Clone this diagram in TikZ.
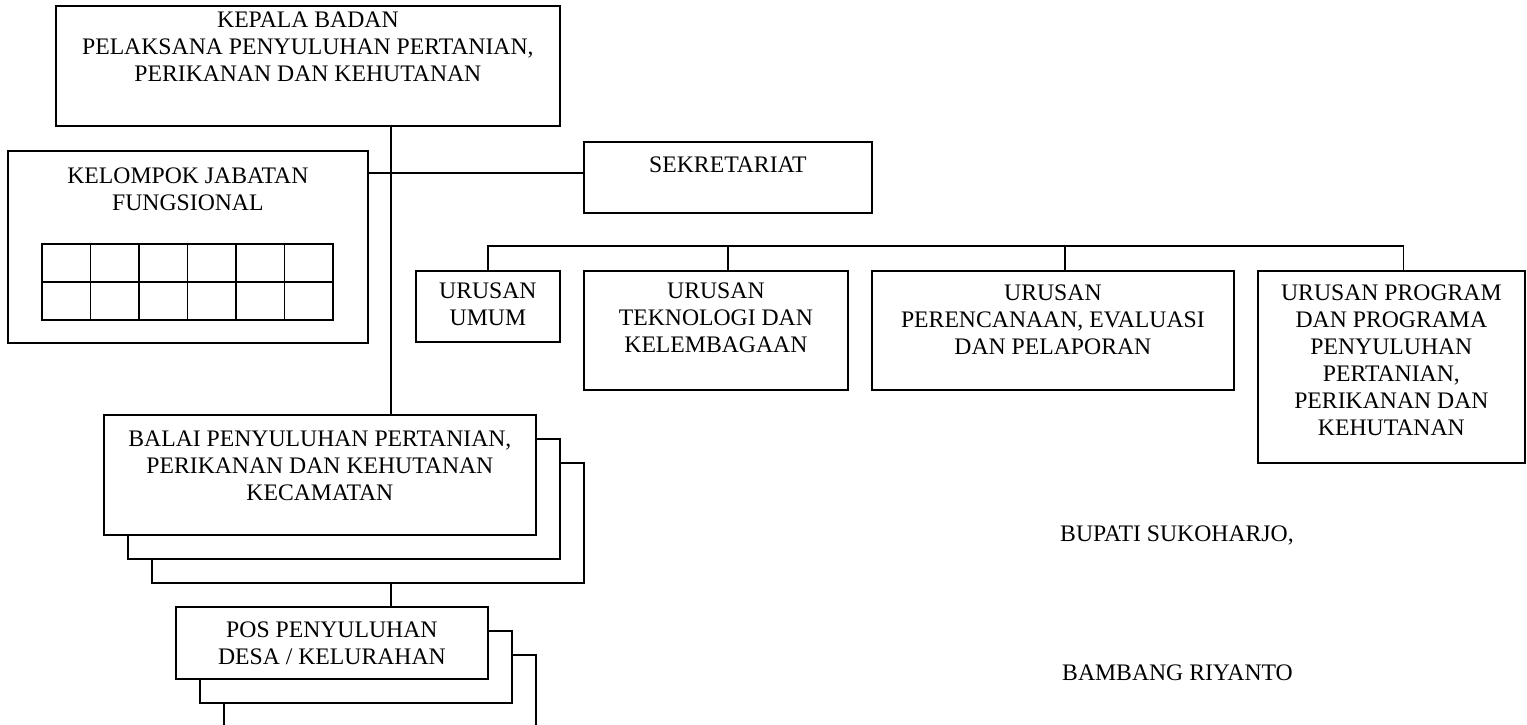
\documentclass[tikz,border=0pt]{standalone}
\usepackage{fontspec}
\setmainfont{Liberation Serif}
\usetikzlibrary{positioning}

\tikzset{
  unit/.style={draw, fill=white, line width=1.8pt, inner sep=0pt, anchor=north west},
  caption/.style={align=center, inner sep=0pt, font=\fontsize{23.7}{27}\selectfont},
  signature/.style={anchor=base west, inner sep=0pt, font=\fontsize{23.7}{27}\selectfont},
  link/.style={line width=1.8pt},
  cell/.style={line width=1.8pt}
}

\begin{document}
\begin{tikzpicture}[x=1pt, y=-1pt]
  \useasboundingbox (0,0) rectangle (1527,725);
  \clip (0,0) rectangle (1527,725);

  % head of the agency
  \node[unit, minimum width=504pt, minimum height=120pt] (kepala) at (55,5) {};
  \node[caption, below=7pt of kepala.north] (kepalaText)
    {KEPALA BADAN\\PELAKSANA PENYULUHAN PERTANIAN,\\PERIKANAN DAN KEHUTANAN};

  % functional group with its table
  \node[unit, minimum width=360pt, minimum height=192pt] (kelompok) at (7,150) {};
  \node[caption, below=18pt of kelompok.north] (kelompokText)
    {KELOMPOK JABATAN\\FUNGSIONAL};
  \foreach \col in {0,...,5}
    \foreach \row in {0,1}
      \draw[cell] (42+48.5*\col, 244+38*\row) rectangle ++(48.5,38);

  % secretariat
  \node[unit, minimum width=288pt, minimum height=71pt] (sekretariat) at (583,141) {};
  \node[caption, below=16pt of sekretariat.north] (sekretariatText) {SEKRETARIAT};

  % sections
  \node[unit, minimum width=144pt, minimum height=71pt] (umum) at (415,270) {};
  \node[unit, minimum width=264pt, minimum height=119pt] (tek) at (583,270) {};
  \node[unit, minimum width=362pt, minimum height=119pt] (plan) at (871,270) {};
  \node[unit, minimum width=267pt, minimum height=192pt] (program) at (1257,270) {};
  \node[caption, below=13pt of umum.north] (umumText) {URUSAN\\UMUM};
  \node[caption, below=13pt of tek.north] (tekText) {URUSAN\\TEKNOLOGI DAN\\KELEMBAGAAN};
  \node[caption, below=15pt of plan.north] (planText)
    {URUSAN\\PERENCANAAN, EVALUASI\\DAN PELAPORAN};
  \node[caption, below=15pt of program.north] (programText)
    {URUSAN PROGRAM\\DAN PROGRAMA\\PENYULUHAN\\PERTANIAN,\\PERIKANAN DAN\\KEHUTANAN};

  % district extension offices (stacked)
  \node[unit, minimum width=432pt, minimum height=120pt] (balaiThree) at (151,462) {};
  \node[unit, minimum width=432pt, minimum height=120pt] (balaiTwo) at (127,438) {};
  \node[unit, minimum width=432pt, minimum height=120pt] (balai) at (103,414) {};
  \node[caption, below=17pt of balai.north] (balaiText)
    {BALAI PENYULUHAN PERTANIAN,\\PERIKANAN DAN KEHUTANAN\\KECAMATAN};

  % village posts (stacked)
  \node[unit, minimum width=312pt, minimum height=110pt] (posThree) at (223,654) {};
  \node[unit, minimum width=312pt, minimum height=72pt] (posTwo) at (199,630) {};
  \node[unit, minimum width=312pt, minimum height=72pt] (pos) at (175,606) {};
  \node[caption, below=16pt of pos.north] (posText)
    {POS PENYULUHAN\\DESA / KELURAHAN};

  % signature
  \node[signature] (bupati) at (1060,541) {BUPATI SUKOHARJO,};
  \node[signature] (bupatiName) at (1062,680) {BAMBANG RIYANTO};

  % lines
  \coordinate (spine) at (391,0);
  \coordinate (sideline) at (0,173);
  \coordinate (bus) at (0,246);
  \coordinate (tekTop) at ([xshift=12pt]tek.north);
  \coordinate (planTop) at ([xshift=12pt]plan.north);
  \coordinate (programTop) at ([xshift=12pt]program.north);
  \draw[link] (kepala.south -| spine) -- (balai.north -| spine);
  \draw[link] (balaiThree.south -| spine) -- (pos.north -| spine);
  \draw[link] (kelompok.east |- sideline) -- (sekretariat.west |- sideline);
  \draw[link] (umum.north) -- (umum.north |- bus) -- (programTop |- bus) -- (programTop);
  \foreach \u in {tekTop, planTop}
    \draw[link] (\u) -- (\u |- bus);
\end{tikzpicture}
\end{document}
